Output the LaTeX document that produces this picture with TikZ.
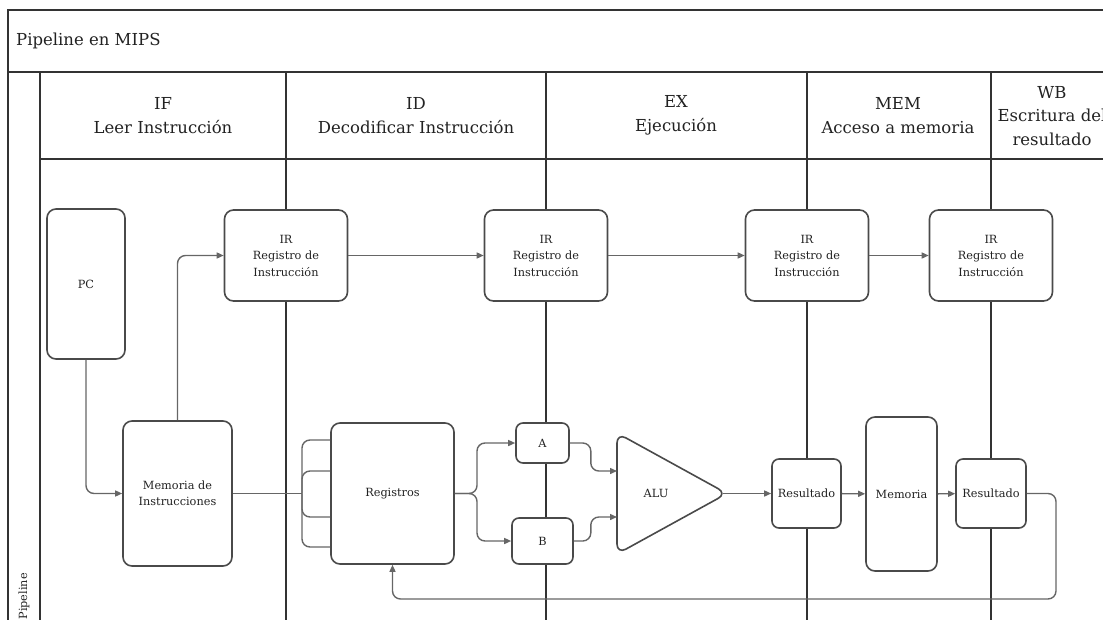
\documentclass[tikz,border=0pt]{standalone}
\usepackage{fontspec}
\setmainfont{DejaVu Serif}
\usepackage{tikz}
\usetikzlibrary{arrows.meta}
\definecolor{framegray}{HTML}{333333}
\definecolor{boxgray}{HTML}{4A4A4A}
\definecolor{linegray}{HTML}{666666}
\definecolor{textgray}{HTML}{222222}
\newcommand{\boxfont}{\fontsize{11.3}{16.5}\selectfont}
\newcommand{\headfont}{\fontsize{16.5}{23.5}\selectfont}
\tikzset{
	stage/.style={draw=boxgray,fill=white,line width=1.6pt,rounded corners=9pt,font=\boxfont,
		text=textgray,align=center,inner sep=0pt},
	small stage/.style={stage,rounded corners=7pt},
	head/.style={font=\headfont,text=textgray,align=center,inner sep=0pt},
	lane line/.style={draw=framegray,line width=1.4pt},
	flow/.style={draw=linegray,line width=1.4pt,rounded corners=8pt}
}

\begin{document}
\begin{tikzpicture}[x=1pt,y=-1pt,>={Triangle[length=7pt,width=6pt]}]
	\useasboundingbox (0,0) rectangle (1103,619);
	\clip (0,0) rectangle (1103,619);
	\draw[lane line] (1120,10) -- (8,10) -- (8,630);
	\draw[lane line] (8,72) -- (1120,72);
	\draw[lane line] (40,72) -- (40,630);
	\draw[lane line] (40,159) -- (1120,159);
	\foreach \x in {286,546,807,991}
		\draw[lane line] (\x,72) -- (\x,630);
	\node[head,anchor=west] (0) at (16,41) {Pipeline en MIPS};
	\node[head] (h1) at (163,115.5) {IF\\Leer Instrucción};
	\node[head] (h2) at (416,115.5) {ID\\Decodificar Instrucción};
	\node[head] (h3) at (676,115.5) {EX\\Ejecución};
	\node[head] (h4) at (898,115.5) {MEM\\Acceso a memoria};
	\node[head] (h5) at (1052,116) {WB\\Escritura del\\resultado};
	\node[font=\boxfont,text=textgray,rotate=90,anchor=east,inner sep=0pt] (p) at (24,573) {Pipeline};
	\node[stage,minimum width=78pt,minimum height=150pt] (1) at (86,284) {PC};
	\node[stage,minimum width=109pt,minimum height=145pt] (2) at (177.5,493.5) {Memoria de\\Instrucciones};
	\foreach \x/\n in {286/3,546/4,807/5,991/6}
		\node[stage,minimum width=123pt,minimum height=91pt] (\n) at (\x,255.5) {IR\\Registro de\\Instrucción};
	\node[stage,minimum width=123pt,minimum height=141pt] (7) at (392.5,493.5) {Registros};
	\node[small stage,minimum width=53pt,minimum height=40pt] (8) at (542.5,443) {A};
	\node[small stage,minimum width=61pt,minimum height=46pt] (9) at (542.5,541) {B};
	\draw[draw=boxgray,fill=white,line width=1.6pt,rounded corners=10pt] (617,433) -- (727,493.5) -- (617,554) -- cycle;
	\node[font=\boxfont,text=textgray] (10) at (656,493.5) {ALU};
	\coordinate (alu-a) at (617,471);
	\coordinate (alu-b) at (617,517);
	\coordinate (alu-o) at (723,493.5);
	\node[small stage,minimum width=69pt,minimum height=69pt] (11) at (806.5,493.5) {Resultado};
	\node[stage,minimum width=71pt,minimum height=154pt] (12) at (901.5,494) {Memoria};
	\node[small stage,minimum width=70pt,minimum height=69pt] (13) at (991,493.5) {Resultado};
	\draw[flow,->] (1) |- (2);
	\draw[flow,->] (2) |- (3);
	\foreach \a/\b in {3/4,4/5,5/6}
		\draw[flow,->] (\a) -- (\b);
	\coordinate (r) at (302,493.5);
	\draw[flow] (2) -- (r);
	\foreach \s in {53.5,22.5,-23.5,-53.5}
		\draw[flow] (r) |- ([yshift=\s pt]7.west);
	\draw[flow,->] (7.east) -- (477,493.5) |- (8);
	\draw[flow,->] (7.east) -- (477,493.5) |- (9);
	\draw[flow,->] (8.east) -- ++(21,0) |- (alu-a);
	\draw[flow,->] (9.east) -- ++(17,0) |- (alu-b);
	\draw[flow,->] (alu-o) -- (11);
	\draw[flow,->] (11) -- (12);
	\draw[flow,->] (12) -- (13);
	\draw[flow,->] (13) -- (1056,493.5) -- (1056,599) -| (7.south);
\end{tikzpicture}
\end{document}
